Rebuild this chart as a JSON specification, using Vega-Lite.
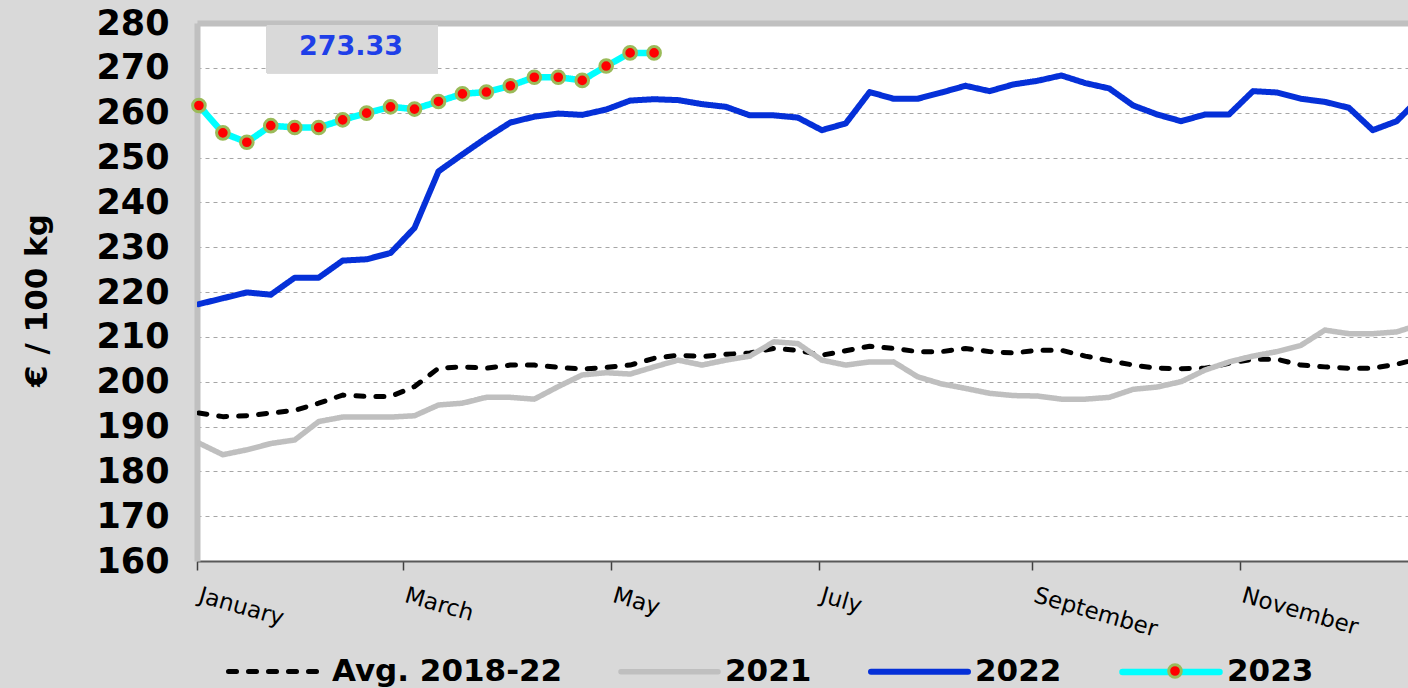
{
  "$schema": "https://vega.github.io/schema/vega-lite/v6.json",
  "width": 1211,
  "height": 538,
  "autosize": {"type": "none"},
  "padding": {"left": 197, "top": 23, "right": 0, "bottom": 127},
  "background": "#D9D9D9",
  "view": {"fill": "white", "stroke": null},
  "data": {"values": [
    {"w":1,"s":"Avg. 2018-22","v":193.0},{"w":2,"s":"Avg. 2018-22","v":192.2},{"w":3,"s":"Avg. 2018-22","v":192.4},{"w":4,"s":"Avg. 2018-22","v":193.0},{"w":5,"s":"Avg. 2018-22","v":193.6},{"w":6,"s":"Avg. 2018-22","v":195.2},{"w":7,"s":"Avg. 2018-22","v":197.0},{"w":8,"s":"Avg. 2018-22","v":196.7},{"w":9,"s":"Avg. 2018-22","v":196.7},{"w":10,"s":"Avg. 2018-22","v":198.9},
    {"w":11,"s":"Avg. 2018-22","v":203.0},{"w":12,"s":"Avg. 2018-22","v":203.3},{"w":13,"s":"Avg. 2018-22","v":203.0},{"w":14,"s":"Avg. 2018-22","v":203.7},{"w":15,"s":"Avg. 2018-22","v":203.7},{"w":16,"s":"Avg. 2018-22","v":203.2},{"w":17,"s":"Avg. 2018-22","v":202.8},{"w":18,"s":"Avg. 2018-22","v":203.2},{"w":19,"s":"Avg. 2018-22","v":203.7},{"w":20,"s":"Avg. 2018-22","v":205.2},
    {"w":21,"s":"Avg. 2018-22","v":205.9},{"w":22,"s":"Avg. 2018-22","v":205.6},{"w":23,"s":"Avg. 2018-22","v":206.1},{"w":24,"s":"Avg. 2018-22","v":206.4},{"w":25,"s":"Avg. 2018-22","v":207.4},{"w":26,"s":"Avg. 2018-22","v":207.0},{"w":27,"s":"Avg. 2018-22","v":205.9},{"w":28,"s":"Avg. 2018-22","v":206.9},{"w":29,"s":"Avg. 2018-22","v":207.9},{"w":30,"s":"Avg. 2018-22","v":207.4},
    {"w":31,"s":"Avg. 2018-22","v":206.7},{"w":32,"s":"Avg. 2018-22","v":206.7},{"w":33,"s":"Avg. 2018-22","v":207.4},{"w":34,"s":"Avg. 2018-22","v":206.7},{"w":35,"s":"Avg. 2018-22","v":206.4},{"w":36,"s":"Avg. 2018-22","v":207.0},{"w":37,"s":"Avg. 2018-22","v":207.0},{"w":38,"s":"Avg. 2018-22","v":205.7},{"w":39,"s":"Avg. 2018-22","v":204.7},{"w":40,"s":"Avg. 2018-22","v":203.7},
    {"w":41,"s":"Avg. 2018-22","v":203.0},{"w":42,"s":"Avg. 2018-22","v":202.9},{"w":43,"s":"Avg. 2018-22","v":203.0},{"w":44,"s":"Avg. 2018-22","v":204.1},{"w":45,"s":"Avg. 2018-22","v":205.0},{"w":46,"s":"Avg. 2018-22","v":205.0},{"w":47,"s":"Avg. 2018-22","v":203.7},{"w":48,"s":"Avg. 2018-22","v":203.3},{"w":49,"s":"Avg. 2018-22","v":203.0},{"w":50,"s":"Avg. 2018-22","v":203.0},
    {"w":51,"s":"Avg. 2018-22","v":203.9},{"w":52,"s":"Avg. 2018-22","v":205.2},
    {"w":1,"s":"2021","v":186.3},{"w":2,"s":"2021","v":183.7},{"w":3,"s":"2021","v":184.8},{"w":4,"s":"2021","v":186.2},{"w":5,"s":"2021","v":187.0},{"w":6,"s":"2021","v":191.1},{"w":7,"s":"2021","v":192.1},{"w":8,"s":"2021","v":192.1},{"w":9,"s":"2021","v":192.1},{"w":10,"s":"2021","v":192.4},
    {"w":11,"s":"2021","v":194.8},{"w":12,"s":"2021","v":195.2},{"w":13,"s":"2021","v":196.5},{"w":14,"s":"2021","v":196.5},{"w":15,"s":"2021","v":196.1},{"w":16,"s":"2021","v":198.9},{"w":17,"s":"2021","v":201.5},{"w":18,"s":"2021","v":202.0},{"w":19,"s":"2021","v":201.7},{"w":20,"s":"2021","v":203.3},
    {"w":21,"s":"2021","v":204.8},{"w":22,"s":"2021","v":203.7},{"w":23,"s":"2021","v":204.8},{"w":24,"s":"2021","v":205.7},{"w":25,"s":"2021","v":208.9},{"w":26,"s":"2021","v":208.5},{"w":27,"s":"2021","v":204.8},{"w":28,"s":"2021","v":203.7},{"w":29,"s":"2021","v":204.4},{"w":30,"s":"2021","v":204.4},
    {"w":31,"s":"2021","v":201.1},{"w":32,"s":"2021","v":199.5},{"w":33,"s":"2021","v":198.5},{"w":34,"s":"2021","v":197.4},{"w":35,"s":"2021","v":196.9},{"w":36,"s":"2021","v":196.8},{"w":37,"s":"2021","v":196.1},{"w":38,"s":"2021","v":196.1},{"w":39,"s":"2021","v":196.5},{"w":40,"s":"2021","v":198.3},
    {"w":41,"s":"2021","v":198.8},{"w":42,"s":"2021","v":200.0},{"w":43,"s":"2021","v":202.6},{"w":44,"s":"2021","v":204.4},{"w":45,"s":"2021","v":205.7},{"w":46,"s":"2021","v":206.7},{"w":47,"s":"2021","v":208.1},{"w":48,"s":"2021","v":211.5},{"w":49,"s":"2021","v":210.7},{"w":50,"s":"2021","v":210.7},
    {"w":51,"s":"2021","v":211.1},{"w":52,"s":"2021","v":212.8},
    {"w":1,"s":"2022","v":217.3},{"w":2,"s":"2022","v":218.6},{"w":3,"s":"2022","v":219.9},{"w":4,"s":"2022","v":219.4},{"w":5,"s":"2022","v":223.2},{"w":6,"s":"2022","v":223.2},{"w":7,"s":"2022","v":227.0},{"w":8,"s":"2022","v":227.3},{"w":9,"s":"2022","v":228.7},{"w":10,"s":"2022","v":234.3},
    {"w":11,"s":"2022","v":246.9},{"w":12,"s":"2022","v":250.7},{"w":13,"s":"2022","v":254.4},{"w":14,"s":"2022","v":257.8},{"w":15,"s":"2022","v":259.1},{"w":16,"s":"2022","v":259.8},{"w":17,"s":"2022","v":259.5},{"w":18,"s":"2022","v":260.7},{"w":19,"s":"2022","v":262.7},{"w":20,"s":"2022","v":263.0},
    {"w":21,"s":"2022","v":262.8},{"w":22,"s":"2022","v":261.9},{"w":23,"s":"2022","v":261.3},{"w":24,"s":"2022","v":259.4},{"w":25,"s":"2022","v":259.4},{"w":26,"s":"2022","v":258.9},{"w":27,"s":"2022","v":256.1},{"w":28,"s":"2022","v":257.6},{"w":29,"s":"2022","v":264.6},{"w":30,"s":"2022","v":263.1},
    {"w":31,"s":"2022","v":263.1},{"w":32,"s":"2022","v":264.5},{"w":33,"s":"2022","v":266.0},{"w":34,"s":"2022","v":264.8},{"w":35,"s":"2022","v":266.3},{"w":36,"s":"2022","v":267.1},{"w":37,"s":"2022","v":268.3},{"w":38,"s":"2022","v":266.6},{"w":39,"s":"2022","v":265.4},{"w":40,"s":"2022","v":261.6},
    {"w":41,"s":"2022","v":259.6},{"w":42,"s":"2022","v":258.1},{"w":43,"s":"2022","v":259.6},{"w":44,"s":"2022","v":259.6},{"w":45,"s":"2022","v":264.8},{"w":46,"s":"2022","v":264.5},{"w":47,"s":"2022","v":263.1},{"w":48,"s":"2022","v":262.4},{"w":49,"s":"2022","v":261.1},{"w":50,"s":"2022","v":256.1},
    {"w":51,"s":"2022","v":258.1},{"w":52,"s":"2022","v":263.5},
    {"w":1,"s":"2023","v":261.6},{"w":2,"s":"2023","v":255.5},{"w":3,"s":"2023","v":253.4},{"w":4,"s":"2023","v":257.1},{"w":5,"s":"2023","v":256.7},{"w":6,"s":"2023","v":256.7},{"w":7,"s":"2023","v":258.4},{"w":8,"s":"2023","v":259.9},{"w":9,"s":"2023","v":261.3},{"w":10,"s":"2023","v":260.8},
    {"w":11,"s":"2023","v":262.5},{"w":12,"s":"2023","v":264.2},{"w":13,"s":"2023","v":264.6},{"w":14,"s":"2023","v":266.0},{"w":15,"s":"2023","v":267.9},{"w":16,"s":"2023","v":267.9},{"w":17,"s":"2023","v":267.2},{"w":18,"s":"2023","v":270.4},{"w":19,"s":"2023","v":273.33},{"w":20,"s":"2023","v":273.33}
  ]},
  "resolve": {"axis": {"x": "independent"}},
  "layer": [
    {
      "mark": {"type": "rect", "color": "#D9D9D9"},
      "encoding": {
        "x": {"datum": 3.84, "type": "quantitative", "scale": {"domain": [0.92, 51.47], "nice": false, "zero": false},
          "axis": {"orient": "top", "labels": false, "ticks": false, "grid": false, "title": null, "domainColor": "#C0C0C0", "domainWidth": 6}},
        "x2": {"datum": 10.98},
        "y": {"datum": 279.55, "type": "quantitative", "scale": {"domain": [160, 280], "nice": false, "zero": false}},
        "y2": {"datum": 268.8}
      }
    },
    {
      "mark": {"type": "line", "strokeCap": "round", "strokeJoin": "round", "clip": true},
      "encoding": {
        "x": {"field": "w", "type": "quantitative",
          "axis": {"orient": "bottom", "values": [0.92, 9.519, 18.202, 26.884, 35.776, 44.459],
            "labelExpr": "datum.value < 2 ? 'January' : datum.value < 10 ? 'March' : datum.value < 19 ? 'May' : datum.value < 27 ? 'July' : datum.value < 36 ? 'September' : 'November'",
            "labelAngle": 16, "labelAlign": "left", "labelBaseline": "top", "labelFont": "DejaVu Sans", "labelFontSize": 23, "labelColor": "black",
            "labelPadding": 14, "labelOffset": 5, "labelFlush": false, "labelOverlap": false, "labelBound": false,
            "tickSize": 9, "tickColor": "#404040", "tickWidth": 1.5, "domainColor": "#595959", "domainWidth": 2, "grid": false, "title": null}},
        "y": {"field": "v", "type": "quantitative",
          "axis": {"values": [160,170,180,190,200,210,220,230,240,250,260,270,280], "grid": true, "gridDash": [4,4], "gridColor": "#A6A6A6", "gridWidth": 1,
            "domainColor": "#C0C0C0", "domainWidth": 6, "ticks": false, "labelPadding": 28,
            "labelFont": "DejaVu Sans", "labelFontWeight": "bold", "labelFontSize": 35, "labelColor": "black",
            "title": "€ / 100 kg", "titleFont": "DejaVu Sans", "titleFontWeight": "bold", "titleFontSize": 31, "titleColor": "black",
            "titleX": -160, "titleY": 277, "titleAngle": -90, "titleAlign": "center", "titleBaseline": "middle"}},
        "color": {"field": "s", "type": "nominal",
          "scale": {"domain": ["Avg. 2018-22", "2021", "2022", "2023"], "range": ["#000000", "#BFBFBF", "#0530D8", "#00FFFF"]},
          "legend": {"orient": "none", "legendX": 29, "legendY": 597, "direction": "horizontal", "title": null,
            "symbolType": "stroke", "symbolSize": 9409, "labelFont": "DejaVu Sans", "labelFontWeight": "bold", "labelFontSize": 31, "labelColor": "black",
            "labelOffset": 4, "columnPadding": 47, "labelLimit": 400, "padding": 0,
            "encode": {"symbols": {"update": {"strokeCap": {"value": "round"}}}}}},
        "strokeDash": {"field": "s", "type": "nominal",
          "scale": {"domain": ["Avg. 2018-22", "2021", "2022", "2023"], "range": [[8, 12], [1, 0], [1, 0], [1, 0]]}},
        "strokeWidth": {"field": "s", "type": "nominal",
          "scale": {"domain": ["Avg. 2018-22", "2021", "2022", "2023"], "range": [5, 6.5, 7.5, 10]}}
      }
    },
    {
      "transform": [{"filter": "datum.s == '2023'"}],
      "mark": {"type": "point", "filled": true, "size": 160, "stroke": "#9BBB59", "strokeWidth": 3, "opacity": 1},
      "encoding": {
        "x": {"field": "w", "type": "quantitative", "axis": null},
        "y": {"field": "v", "type": "quantitative"},
        "fill": {"field": "s", "type": "nominal", "scale": {"domain": ["2023"], "range": ["#FF0000"]},
          "legend": {"orient": "none", "legendX": 970, "legendY": 640, "title": null, "symbolType": "circle", "symbolSize": 160,
            "symbolStrokeColor": "#9BBB59", "symbolStrokeWidth": 3, "labelExpr": "''", "labelFontSize": 1, "padding": 0}}
      }
    },
    {
      "transform": [{"filter": "datum.s == '2023' && datum.w == 20"}],
      "mark": {"type": "text", "font": "DejaVu Sans", "fontWeight": "bold", "fontSize": 27, "color": "#1F3FE8", "align": "center", "baseline": "middle"},
      "encoding": {
        "x": {"datum": 7.35, "type": "quantitative", "axis": null},
        "y": {"datum": 274.65, "type": "quantitative"},
        "text": {"field": "v", "type": "quantitative", "format": ".2f"}
      }
    }
  ]
}
